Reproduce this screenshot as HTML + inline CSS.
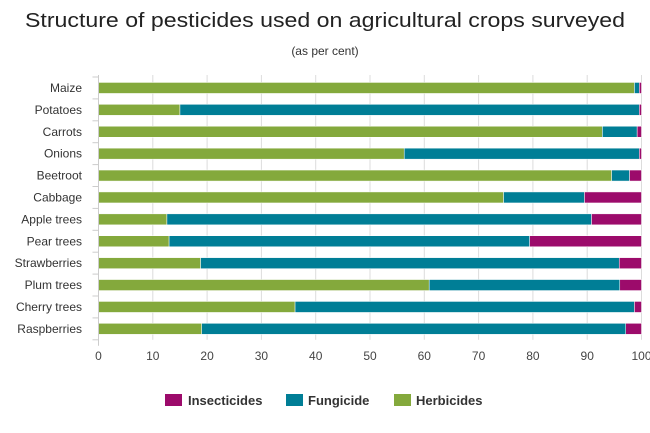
<!DOCTYPE html>
<html><head><meta charset="utf-8"><style>
html,body{margin:0;padding:0;background:#fff;}
svg{display:block;font-family:"Liberation Sans",sans-serif;}
</style></head><body>
<svg id="chart" width="650" height="433" viewBox="0 0 650 433">
<text x="325" y="27" text-anchor="middle" font-size="20" fill="#222" textLength="600" lengthAdjust="spacingAndGlyphs">Structure of pesticides used on agricultural crops surveyed</text>
<text x="325" y="55" text-anchor="middle" font-size="12" fill="#333">(as per cent)</text>
<g id="grid"></g><g id="bars"></g><g id="axes"></g>
<g>
<g><rect x="165" y="394" width="17" height="12" fill="#9c0b6b"/><text x="188" y="405" font-size="13" font-weight="bold" fill="#333">Insecticides</text></g>
<g><rect x="286" y="394" width="17" height="12" fill="#007e96"/><text x="308" y="405" font-size="13" font-weight="bold" fill="#333">Fungicide</text></g>
<g><rect x="394" y="394" width="17" height="12" fill="#84a93c"/><text x="416" y="405" font-size="13" font-weight="bold" fill="#333">Herbicides</text></g>
</g>
</svg>
<script>
const categories=["Maize","Potatoes","Carrots","Onions","Beetroot","Cabbage","Apple trees","Pear trees","Strawberries","Plum trees","Cherry trees","Raspberries"];
const herbicides=[98.7,15.0,92.8,56.3,94.5,74.6,12.6,13.0,18.8,60.9,36.2,19.0];
const fungicide=[0.9,84.6,6.4,43.3,3.3,14.9,78.2,66.4,77.1,35.1,62.5,78.1];
const insecticides=[0.4,0.4,0.8,0.4,2.2,10.5,9.2,20.6,4.1,4.0,1.3,2.9];
const xTicks=[0,10,20,30,40,50,60,70,80,90,100];
const NS="http://www.w3.org/2000/svg";
const x0=98.5,x1=641.5,yTop=77,rowH=21.9,barH=11;
function xs(v){return x0+(v/100)*(x1-x0);}
function ys(i){return yTop+i*rowH+rowH/2;}
function mk(tag,attrs,parent){const e=document.createElementNS(NS,tag);for(const k in attrs)e.setAttribute(k,attrs[k]);parent.appendChild(e);return e;}
const grid=document.getElementById('grid'),bars=document.getElementById('bars'),axes=document.getElementById('axes');
xTicks.forEach(t=>{
  if(t>0){const l=mk('line',{x1:xs(t),x2:xs(t),y1:yTop-2,y2:yTop+categories.length*rowH,stroke:'#dcdcdc','stroke-width':1},grid);
  
  }
  const tx=mk('text',{x:xs(t),y:360,'text-anchor':'middle','font-size':12,fill:'#444'},axes);
  tx.textContent=t;
  
  
});
const ax=mk('line',{x1:x0,x2:x0,y1:yTop-2,y2:yTop+categories.length*rowH+6,stroke:'#ccc','stroke-width':1},axes);


for(let i=0;i<=categories.length;i++){
  const tk=mk('line',{x1:x0-6,x2:x0,y1:yTop+i*rowH,y2:yTop+i*rowH,stroke:'#ccc','stroke-width':1},axes);
  
  
}
categories.forEach((c,i)=>{
  const tx=mk('text',{x:82,y:ys(i)+4,'text-anchor':'end','font-size':12,fill:'#333'},axes);
  tx.textContent=c;
  
  
  const segs=[[herbicides[i],'#84a93c','herbicides'],[fungicide[i],'#007e96','fungicide'],[insecticides[i],'#9c0b6b','insecticides']];
  let acc=0;
  segs.forEach(s=>{
    const r=mk('rect',{x:xs(acc),y:ys(i)-barH/2,width:Math.max(0,xs(acc+s[0])-xs(acc)),height:barH,fill:s[1],stroke:'#fff','stroke-width':0.5},bars);
    
    
    acc+=s[0];
  });
});
</script>
</body></html>
